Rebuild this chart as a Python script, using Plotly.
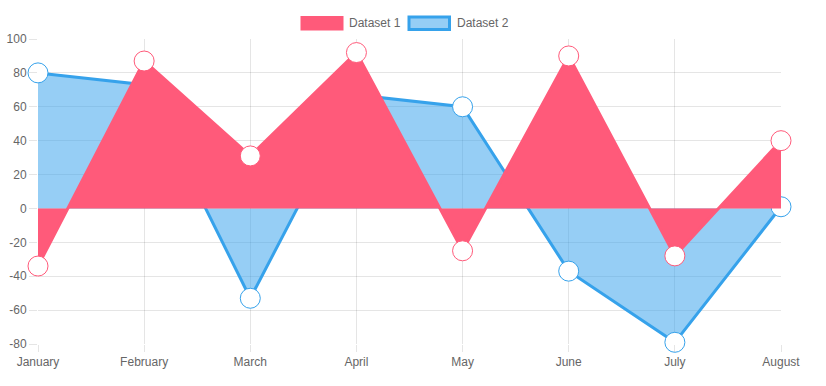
import plotly.graph_objects as go

months = ["January", "February", "March", "April", "May", "June", "July", "August"]
dataset1 = [-34, 87, 31, 92, -25, 90, -28, 40]
dataset2 = [80, 73, -53, 67, 60, -37, -79, 1]
y_ticks = [100, 80, 60, 40, 20, 0, -20, -40, -60, -80]
y_tick_labels = [str(v) for v in y_ticks]

RED = "rgb(255,90,122)"
BLUE = "rgb(54,162,235)"
BLUE_FILL = "rgba(54,162,235,0.52)"
GRID = "rgba(0,0,0,0.1)"
FONT = "Liberation Sans, Arial, Helvetica, sans-serif"

fig = go.Figure()
fig.add_trace(go.Scatter(
    x=months, y=dataset2, name="Dataset 2", mode="lines+markers",
    fill="tozeroy", fillcolor=BLUE_FILL, cliponaxis=False,
    line=dict(color=BLUE, width=3),
    marker=dict(size=20, color="white", line=dict(color=BLUE, width=1)),
    showlegend=False, hoverinfo="skip",
))
fig.add_trace(go.Scatter(
    x=months, y=dataset1, name="Dataset 1", mode="lines+markers",
    fill="tozeroy", fillcolor=RED, cliponaxis=False,
    line=dict(color=RED, width=3),
    marker=dict(size=20, color="white", line=dict(color=RED, width=1)),
    showlegend=False, hoverinfo="skip",
))

# custom legend (Chart.js style)
def px_x(p):
    return (p - 38) / (781 - 38)

def px_y(p):
    return (344 - p) / (344 - 39)

shapes = [
    dict(type="rect", xref="paper", yref="paper",
         x0=px_x(300.5), x1=px_x(343.5), y0=px_y(30.5), y1=px_y(16),
         fillcolor=RED, line=dict(color=RED, width=0)),
    dict(type="rect", xref="paper", yref="paper",
         x0=px_x(409), x1=px_x(449.5), y0=px_y(29.5), y1=px_y(17),
         fillcolor=BLUE_FILL, line=dict(color=BLUE, width=3)),
]
annotations = [
    dict(text="Dataset 1", xref="paper", yref="paper", x=px_x(347), y=px_y(23.5),
         xanchor="left", yanchor="middle", showarrow=False,
         font=dict(family=FONT, size=12, color="#666")),
    dict(text="Dataset 2", xref="paper", yref="paper", x=px_x(454.5), y=px_y(23.5),
         xanchor="left", yanchor="middle", showarrow=False,
         font=dict(family=FONT, size=12, color="#666")),
]

fig.update_layout(
    width=826, height=386,
    margin=dict(l=38, r=45, t=39, b=42, autoexpand=False),
    paper_bgcolor="white", plot_bgcolor="white",
    font=dict(family=FONT, size=12, color="#666"),
    shapes=shapes, annotations=annotations,
    hovermode=False,
)
fig.update_xaxes(
    type="category", range=[0, 7], showgrid=True, gridcolor=GRID, gridwidth=1,
    zeroline=False, showline=False, ticks="outside", ticklen=7, tickcolor=GRID,
    automargin=False,
    tickfont=dict(family=FONT, size=12, color="#666"),
)
fig.update_yaxes(
    range=[-80, 100], tickvals=y_ticks, ticktext=y_tick_labels,
    showgrid=True, gridcolor=GRID, gridwidth=1, zeroline=False, showline=False,
    ticks="outside", ticklen=8, tickcolor=GRID, automargin=False,
    tickfont=dict(family=FONT, size=12, color="#666"),
)

fig.write_html(
    "out.html",
    config={"displayModeBar": False},
    post_script="document.body.style.margin='0';document.body.style.padding='0';"
                "document.documentElement.style.overflow='hidden';",
)
